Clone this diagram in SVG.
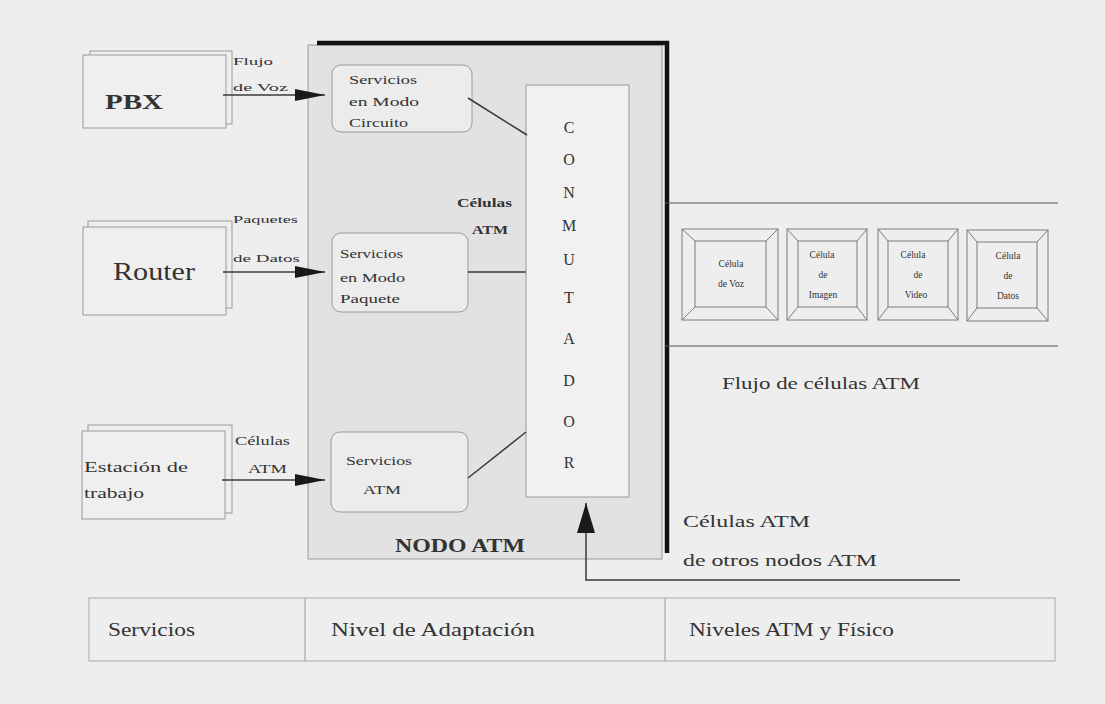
<svg xmlns="http://www.w3.org/2000/svg" width="1105" height="704" viewBox="0 0 1105 704">
<style>
text{font-family:"Liberation Serif","Times New Roman",serif;fill:#333}
.src{fill:none;stroke:#9a9a9a;stroke-width:1}
.srcf{fill:#efefef;stroke:#9a9a9a;stroke-width:1}
.svc{fill:#ececec;stroke:#9a9a9a;stroke-width:1}
.ln{stroke:#3a3a3a;stroke-width:1.5;fill:none}
.cell{fill:none;stroke:#7a7a7a;stroke-width:1}
.t11{font-size:11px}
.t12{font-size:12.5px}
.t10{font-size:9.5px}
.lt{font-size:16px;text-anchor:middle}
.big{font-size:17px}
.tab{font-size:18px}
</style>
<defs>
<marker id="ah" markerUnits="userSpaceOnUse" markerWidth="30" markerHeight="12" refX="30" refY="6" orient="auto"><path d="M0,0 L30,6 L0,12 z" fill="#1a1a1a"/></marker>
<marker id="ahv" markerUnits="userSpaceOnUse" markerWidth="30" markerHeight="18" refX="30" refY="9" orient="auto"><path d="M0,0 L30,9 L0,18 z" fill="#1a1a1a"/></marker>
</defs>
<rect x="0" y="0" width="1105" height="704" fill="#eeeeee"/>

<g id="nodo-atm">
<rect x="308" y="45" width="354" height="514" fill="#e2e2e2" stroke="#9a9a9a" stroke-width="1"/>
<path d="M317,43 L667,43 L667,553" fill="none" stroke="#111" stroke-width="4.5"/>
<text x="395" y="552" font-size="18" font-weight="bold" textLength="130" lengthAdjust="spacingAndGlyphs">NODO  ATM</text>
<text x="457" y="207" font-size="12" font-weight="bold" textLength="55" lengthAdjust="spacingAndGlyphs">Células</text>
<text x="472" y="234" font-size="12" font-weight="bold" textLength="36" lengthAdjust="spacingAndGlyphs">ATM</text>
</g>

<g id="pbx">
<rect class="src" x="90" y="51" width="142" height="73"/>
<rect class="srcf" x="83" y="55" width="143" height="73"/>
<text x="105" y="109" font-size="21" font-weight="bold" textLength="58" lengthAdjust="spacingAndGlyphs">PBX</text>
</g>

<g id="router">
<rect class="src" x="88" y="221" width="144" height="87"/>
<rect class="srcf" x="83" y="227" width="143" height="88"/>
<text x="113" y="280" font-size="25" textLength="82" lengthAdjust="spacingAndGlyphs">Router</text>
</g>

<g id="estacion">
<rect class="src" x="88" y="425" width="144" height="88"/>
<rect class="srcf" x="82" y="431" width="143" height="88"/>
<text x="84" y="472" font-size="15.5" textLength="104" lengthAdjust="spacingAndGlyphs">Estación  de</text>
<text x="84" y="498" font-size="15.5" textLength="60" lengthAdjust="spacingAndGlyphs">trabajo</text>
</g>

<g id="svc-circuito">
<rect class="svc" x="332" y="65" width="140" height="67" rx="9"/>
<text class="t12" x="349" y="84" textLength="68" lengthAdjust="spacingAndGlyphs">Servicios</text>
<text class="t12" x="349" y="106" textLength="70" lengthAdjust="spacingAndGlyphs">en  Modo</text>
<text class="t12" x="349" y="127" textLength="59" lengthAdjust="spacingAndGlyphs">Circuito</text>
</g>

<g id="svc-paquete">
<rect class="svc" x="332" y="233" width="136" height="79" rx="9"/>
<text class="t12" x="340" y="258" textLength="63" lengthAdjust="spacingAndGlyphs">Servicios</text>
<text class="t12" x="340" y="282" textLength="65" lengthAdjust="spacingAndGlyphs">en  Modo</text>
<text class="t12" x="340" y="303" textLength="60" lengthAdjust="spacingAndGlyphs">Paquete</text>
</g>

<g id="svc-atm">
<rect class="svc" x="331" y="432" width="137" height="80" rx="9"/>
<text class="t12" x="346" y="465" textLength="66" lengthAdjust="spacingAndGlyphs">Servicios</text>
<text class="t12" x="363" y="494" textLength="38" lengthAdjust="spacingAndGlyphs">ATM</text>
</g>

<g id="conmutador">
<rect x="526" y="85" width="103" height="412" fill="#f1f1f1" stroke="#9a9a9a" stroke-width="1"/>
<text class="lt" x="569" y="133">C</text>
<text class="lt" x="569" y="165">O</text>
<text class="lt" x="569" y="198">N</text>
<text class="lt" x="569" y="231">M</text>
<text class="lt" x="569" y="265">U</text>
<text class="lt" x="569" y="303">T</text>
<text class="lt" x="569" y="344">A</text>
<text class="lt" x="569" y="386">D</text>
<text class="lt" x="569" y="427">O</text>
<text class="lt" x="569" y="468">R</text>
</g>

<g id="celulas">
<g id="cell-voz">
<rect class="cell" x="682" y="229" width="96" height="91"/>
<rect class="cell" x="695" y="241" width="71" height="66"/>
<path class="cell" d="M682,229 L695,241 M778,229 L766,241 M682,320 L695,307 M778,320 L766,307"/>
<text class="t10" x="731" y="267" text-anchor="middle">Célula</text>
<text class="t10" x="731" y="287" text-anchor="middle">de  Voz</text>
</g>
<g id="cell-imagen">
<rect class="cell" x="787" y="229" width="80" height="91"/>
<rect class="cell" x="798" y="241" width="59" height="66"/>
<path class="cell" d="M787,229 L798,241 M867,229 L857,241 M787,320 L798,307 M867,320 L857,307"/>
<text class="t10" x="822" y="258" text-anchor="middle">Célula</text>
<text class="t10" x="823" y="278" text-anchor="middle">de</text>
<text class="t10" x="823" y="298" text-anchor="middle">Imagen</text>
</g>
<g id="cell-video">
<rect class="cell" x="878" y="229" width="80" height="91"/>
<rect class="cell" x="888" y="241" width="60" height="66"/>
<path class="cell" d="M878,229 L888,241 M958,229 L948,241 M878,320 L888,307 M958,320 L948,307"/>
<text class="t10" x="913" y="258" text-anchor="middle">Célula</text>
<text class="t10" x="918" y="278" text-anchor="middle">de</text>
<text class="t10" x="916" y="298" text-anchor="middle">Video</text>
</g>
<g id="cell-datos">
<rect class="cell" x="967" y="230" width="81" height="91"/>
<rect class="cell" x="977" y="242" width="60" height="66"/>
<path class="cell" d="M967,230 L977,242 M1048,230 L1037,242 M967,321 L977,308 M1048,321 L1037,308"/>
<text class="t10" x="1008" y="259" text-anchor="middle">Célula</text>
<text class="t10" x="1008" y="279" text-anchor="middle">de</text>
<text class="t10" x="1008" y="299" text-anchor="middle">Datos</text>
</g>
</g>

<g id="connectors">
<line class="ln" x1="223" y1="95" x2="325" y2="95" stroke="#333" marker-end="url(#ah)"/>
<line class="ln" x1="223" y1="272" x2="325" y2="272" marker-end="url(#ah)"/>
<line class="ln" x1="222" y1="480" x2="325" y2="480" marker-end="url(#ah)"/>
<line class="ln" x1="468" y1="98" x2="527" y2="135"/>
<line class="ln" x1="468" y1="272" x2="526" y2="272"/>
<line class="ln" x1="468" y1="478" x2="526" y2="432"/>
<path class="ln" d="M960,580 L586,580 L586,503" marker-end="url(#ahv)"/>
<line x1="665" y1="203" x2="1058" y2="203" stroke="#555" stroke-width="1.2"/>
<line x1="665" y1="346" x2="1058" y2="346" stroke="#555" stroke-width="1.2"/>
</g>

<g id="labels">
<text class="t11" x="233" y="65" textLength="40" lengthAdjust="spacingAndGlyphs">Flujo</text>
<text class="t11" x="233" y="91" textLength="55" lengthAdjust="spacingAndGlyphs">de  Voz</text>
<text class="t11" x="233" y="223" textLength="65" lengthAdjust="spacingAndGlyphs">Paquetes</text>
<text class="t11" x="233" y="262" textLength="67" lengthAdjust="spacingAndGlyphs">de  Datos</text>
<text class="t12" x="235" y="445" textLength="55" lengthAdjust="spacingAndGlyphs">Células</text>
<text class="t12" x="248" y="473" textLength="39" lengthAdjust="spacingAndGlyphs">ATM</text>
<text class="big" x="722" y="389" textLength="198" lengthAdjust="spacingAndGlyphs">Flujo  de  células  ATM</text>
<text class="big" x="683" y="527" textLength="127" lengthAdjust="spacingAndGlyphs">Células  ATM</text>
<text class="big" x="683" y="566" textLength="194" lengthAdjust="spacingAndGlyphs">de  otros  nodos  ATM</text>
</g>

<g id="tabla">
<rect x="89" y="598" width="966" height="63" fill="none" stroke="#aaa" stroke-width="1"/>
<line x1="305" y1="598" x2="305" y2="661" stroke="#999" stroke-width="1"/>
<line x1="665" y1="598" x2="665" y2="661" stroke="#999" stroke-width="1"/>
<text class="tab" x="108" y="636" textLength="87" lengthAdjust="spacingAndGlyphs">Servicios</text>
<text class="tab" x="331" y="636" textLength="204" lengthAdjust="spacingAndGlyphs">Nivel  de  Adaptación</text>
<text class="tab" x="689" y="636" textLength="205" lengthAdjust="spacingAndGlyphs">Niveles  ATM  y  Físico</text>
</g>
</svg>
